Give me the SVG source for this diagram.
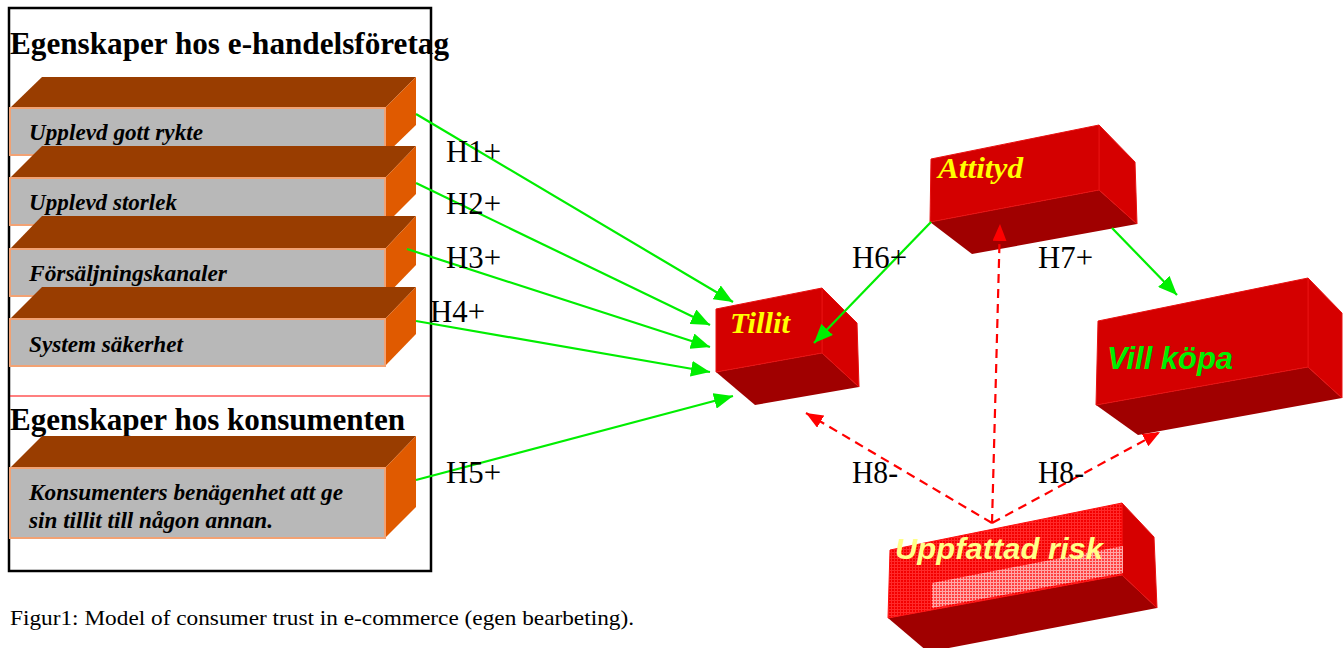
<svg xmlns="http://www.w3.org/2000/svg" width="1343" height="648" viewBox="0 0 1343 648">
<style>
.title{font-family:"Liberation Serif",serif;font-weight:bold;font-size:32px;fill:#000}
.bartxt{font-family:"Liberation Serif",serif;font-weight:bold;font-style:italic;font-size:23px;fill:#000}
.hl{font-family:"Liberation Serif",serif;font-size:31px;fill:#000}
.cap{font-family:"Liberation Serif",serif;font-size:21px;fill:#000}
.btop{fill:#993D00}
.bright{fill:#E05A00}
.bfront{fill:#B8B8B8;stroke:#F2A274;stroke-width:2}
.rfront{fill:#D40000;stroke:#E81010;stroke-width:1}
.rright{fill:#D60000;stroke:#E81010;stroke-width:1}
.rbot{fill:#A00000}
.g{stroke:#00EE00;stroke-width:2.2;fill:none;marker-end:url(#ga)}
.r{stroke:#FF0000;stroke-width:2.2;fill:none;stroke-dasharray:9 6;marker-end:url(#ra)}
.yl{font-family:"Liberation Serif",serif;font-weight:bold;font-style:italic;fill:#FFFF00}
.sans{font-family:"Liberation Sans",Arial,sans-serif;font-weight:bold;font-style:italic}
</style>
<defs>
<marker id="ga" markerUnits="userSpaceOnUse" markerWidth="20" markerHeight="16" refX="19" refY="8" orient="auto" viewBox="0 0 20 16">
<path d="M0,0 L19,8 L0,16 z" fill="#00EE00"/>
</marker>
<marker id="ra" markerUnits="userSpaceOnUse" markerWidth="18" markerHeight="14" refX="17" refY="7" orient="auto" viewBox="0 0 18 14">
<path d="M0,0 L17,7 L0,14 z" fill="#FF0000"/>
</marker>
<pattern id="mesh" width="3" height="3" patternUnits="userSpaceOnUse">
<rect width="3" height="3" fill="#F40000"/>
<path d="M0,0.5 H3 M0.5,0 V3" stroke="#FF2a2a" stroke-width="1"/>
</pattern>
<pattern id="band" width="3" height="3" patternUnits="userSpaceOnUse">
<rect width="3" height="3" fill="#FF4040"/>
<path d="M0,0.5 H3 M0.5,0 V3" stroke="#FFA8A8" stroke-width="1"/>
</pattern>
</defs>

<g id="frame">
<rect x="9" y="8" width="422" height="563" fill="none" stroke="#000" stroke-width="2.5"/>
<line x1="10" y1="396" x2="430" y2="396" stroke="#FF0000" stroke-width="1.2"/>
</g>

<g id="title-foretag">
<text class="title" x="10" y="54" textLength="439" lengthAdjust="spacingAndGlyphs">Egenskaper hos e-handelsföretag</text>
</g>

<g id="bar1">
<polygon class="btop" points="10,108 42,77 416,77 385,108"/>
<polygon class="bright" points="385,108 416,77 416,125 385,155"/>
<rect class="bfront" x="10" y="108" width="375" height="47"/>
<text class="bartxt" x="29" y="140" textLength="174" lengthAdjust="spacingAndGlyphs">Upplevd gott rykte</text>
</g>
<g id="bar2">
<polygon class="btop" points="10,178 42,146 416,146 385,178"/>
<polygon class="bright" points="385,178 416,146 416,194 385,225"/>
<rect class="bfront" x="10" y="178" width="375" height="47"/>
<text class="bartxt" x="29" y="210" textLength="148" lengthAdjust="spacingAndGlyphs">Upplevd storlek</text>
</g>
<g id="bar3">
<polygon class="btop" points="10,249 42,216 416,216 385,249"/>
<polygon class="bright" points="385,249 416,216 416,265 385,297"/>
<rect class="bfront" x="10" y="249" width="375" height="47"/>
<text class="bartxt" x="29" y="281" textLength="198" lengthAdjust="spacingAndGlyphs">Försäljningskanaler</text>
</g>
<g id="bar4">
<polygon class="btop" points="10,319 42,287 416,287 385,319"/>
<polygon class="bright" points="385,319 416,287 416,334 385,366"/>
<rect class="bfront" x="10" y="319" width="375" height="47"/>
<text class="bartxt" x="29" y="352" textLength="154" lengthAdjust="spacingAndGlyphs">System säkerhet</text>
</g>

<g id="title-konsument">
<text class="title" x="10" y="430" textLength="395" lengthAdjust="spacingAndGlyphs">Egenskaper hos konsumenten</text>
</g>

<g id="bar5">
<polygon class="btop" points="10,468 42,436 416,436 385,468"/>
<polygon class="bright" points="385,468 416,436 416,507 385,538"/>
<rect class="bfront" x="10" y="468" width="375" height="70"/>
<text class="bartxt" x="29" y="500" textLength="314" lengthAdjust="spacingAndGlyphs">Konsumenters benägenhet att ge</text>
<text class="bartxt" x="29" y="528" textLength="244" lengthAdjust="spacingAndGlyphs">sin tillit till någon annan.</text>
</g>

<g id="tillit">
<polygon class="rbot" points="716,372 822,353 859,387 755,405"/>
<polygon class="rright" points="822,288 857,323 859,387 822,353"/>
<polygon class="rfront" points="716,309 822,288 822,353 716,372"/>
<text class="yl" x="730" y="333" font-size="30" textLength="60" lengthAdjust="spacingAndGlyphs">Tillit</text>
</g>

<g id="attityd">
<polygon class="rbot" points="930,222 1099,190 1137,224 972,254"/>
<polygon class="rright" points="1099,125 1135,162 1137,224 1099,190"/>
<polygon class="rfront" points="931,159 1099,125 1099,190 930,222"/>
<text class="yl" x="938" y="178" font-size="30" textLength="85" lengthAdjust="spacingAndGlyphs">Attityd</text>
</g>

<g id="vill-kopa">
<polygon class="rbot" points="1096,405 1308,367 1342,398 1138,435"/>
<polygon class="rright" points="1308,278 1342,313 1342,398 1308,367"/>
<polygon class="rfront" points="1098,321 1308,278 1308,367 1096,405"/>
<text class="sans" x="1107" y="369" font-size="31" fill="#00EE00" textLength="126" lengthAdjust="spacingAndGlyphs">Vill köpa</text>
</g>

<g id="uppfattad-risk">
<polygon class="rbot" points="888,618 1122,575 1157,608 928,652"/>
<polygon class="rright" points="1122,503 1154,537 1157,608 1122,575"/>
<polygon points="890,550 1122,503 1122,575 888,618" fill="url(#mesh)" stroke="#FF1010" stroke-width="1"/>
<polygon points="932,583 1123,546 1123,573 932,608" fill="url(#band)"/>
<text class="sans" x="895" y="559" font-size="30" fill="#FFFF88" textLength="208" lengthAdjust="spacingAndGlyphs">Uppfattad risk</text>
</g>

<g id="connectors">
<line class="g" x1="416" y1="114" x2="733" y2="302"/>
<line class="g" x1="416" y1="183" x2="710" y2="325"/>
<line class="g" x1="407" y1="249" x2="710" y2="347"/>
<line class="g" x1="416" y1="321" x2="710" y2="372"/>
<line class="g" x1="416" y1="480" x2="733" y2="396"/>
<line class="g" x1="931" y1="222" x2="814" y2="343"/>
<line class="g" x1="1112" y1="228" x2="1177" y2="295"/>
<line class="r" x1="992" y1="523" x2="806" y2="413"/>
<line class="r" x1="992" y1="523" x2="1000" y2="224"/>
<line class="r" x1="992" y1="523" x2="1160" y2="432"/>
</g>

<g id="labels">
<text class="hl" x="446" y="162" textLength="55" lengthAdjust="spacingAndGlyphs">H1+</text>
<text class="hl" x="446" y="214" textLength="55" lengthAdjust="spacingAndGlyphs">H2+</text>
<text class="hl" x="446" y="268" textLength="55" lengthAdjust="spacingAndGlyphs">H3+</text>
<text class="hl" x="430" y="322" textLength="55" lengthAdjust="spacingAndGlyphs">H4+</text>
<text class="hl" x="446" y="483" textLength="55" lengthAdjust="spacingAndGlyphs">H5+</text>
<text class="hl" x="852" y="268" textLength="55" lengthAdjust="spacingAndGlyphs">H6+</text>
<text class="hl" x="1038" y="268" textLength="55" lengthAdjust="spacingAndGlyphs">H7+</text>
<text class="hl" x="852" y="483" textLength="46" lengthAdjust="spacingAndGlyphs">H8-</text>
<text class="hl" x="1038" y="483" textLength="46" lengthAdjust="spacingAndGlyphs">H8-</text>
</g>

<g id="caption">
<text class="cap" x="10" y="625" textLength="624" lengthAdjust="spacingAndGlyphs">Figur1: Model of consumer trust in e-commerce (egen bearbeting).</text>
</g>
</svg>
